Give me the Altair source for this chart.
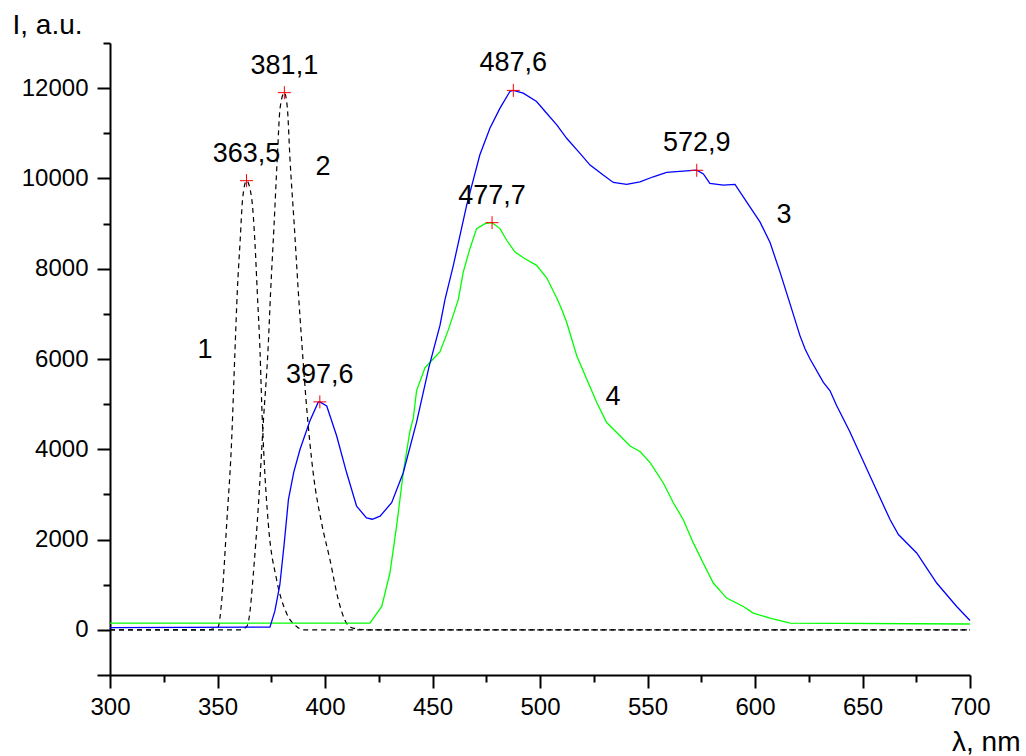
import altair as alt
import pandas as pd

# ---- data ----
c1_x = [300, 345, 350.2, 352, 354.3, 356.6, 358.1, 359.2, 360.5, 361.7, 363.5, 365.9, 367.4, 368.5, 369.8, 370.6, 371.6, 373.6, 377.5, 382.1, 386.8, 390, 700]
c1_y = [0, 0, 60, 667, 2370, 4222, 6148, 7481, 8593, 9555, 9950, 9555, 8593, 7481, 6148, 4963, 3852, 2370, 1111, 370, 74, 0, 0]

c2_x = [300, 360, 363.6, 364.8, 366.7, 369, 371.3, 373.6, 374.7, 376.3, 377.8, 379.1, 381.1, 382.5, 383.7, 385.7, 387.6, 389.3, 391.4, 394.5, 398.4, 402.3, 406.2, 410, 413.1, 420, 700]
c2_y = [0, 0, 74, 296, 1259, 2741, 4593, 6300, 7481, 8963, 10444, 11556, 11900, 11556, 10444, 8963, 7481, 6300, 4963, 3481, 2370, 1556, 667, 148, 37, 0, 0]

c3_x = [300, 374.4, 376.7, 379, 381, 383, 385.5, 388.4, 393, 396.9, 397.6, 400.8, 405.4, 410, 414.7, 419.3, 422, 425.6, 431, 436.4, 442.6, 448.4, 453.5, 455.8, 459.7, 465.9, 472, 476.7, 481.4, 486, 487.6, 492.2, 498.4, 503.1, 507.8, 512.4, 518.6, 523.3, 529.4, 534.1, 540.3, 546.5, 552.7, 558.9, 566.6, 572.9, 576, 579, 585.3, 590.7, 596.1, 602.3, 607, 611.6, 616.3, 620.9, 623.3, 625.6, 631.8, 634.9, 638, 644, 653.5, 662.8, 666.7, 675.2, 684.5, 693.8, 700]
c3_y = [50, 60, 420, 1000, 1900, 2890, 3500, 4000, 4630, 5050, 5050, 4960, 4300, 3490, 2740, 2480, 2450, 2520, 2815, 3480, 4600, 5830, 6750, 7314, 8074, 9407, 10518, 11111, 11556, 11926, 11950, 11889, 11704, 11444, 11185, 10889, 10556, 10296, 10074, 9911, 9867, 9926, 10037, 10133, 10163, 10185, 10100, 9889, 9852, 9867, 9481, 9037, 8580, 7930, 7220, 6518, 6222, 6000, 5481, 5296, 4963, 4400, 3407, 2444, 2111, 1704, 1037, 518, 207]

c4_x = [300, 420.9, 426.4, 430.2, 433.3, 436.4, 439.5, 441.1, 442.6, 445.7, 446.5, 450.3, 453.5, 457.4, 462, 464.3, 467.4, 470.5, 474.4, 477.7, 481.4, 484.5, 488.4, 493, 498.4, 503.1, 507.8, 510, 512.4, 517.1, 521.7, 526.4, 531, 535.7, 541.9, 546.5, 551.2, 557.3, 562, 566.6, 571.3, 575.9, 580.6, 586.8, 594.6, 599.2, 607, 616.3, 700]
c4_y = [150, 150, 518, 1259, 2296, 3481, 4400, 4700, 5300, 5700, 5807, 6000, 6162, 6650, 7314, 7926, 8444, 8889, 9000, 9020, 8889, 8630, 8370, 8222, 8074, 7800, 7350, 7111, 6815, 6074, 5556, 5037, 4593, 4370, 4074, 3950, 3704, 3259, 2815, 2444, 1926, 1481, 1037, 704, 518, 370, 259, 150, 130]

peak_x = [363.5, 381.1, 397.6, 477.7, 487.6, 572.9]
peak_y = [9950, 11900, 5050, 9020, 11950, 10180]
peak_text = ["363,5", "381,1", "397,6", "477,7", "487,6", "572,9"]

lab_x = [344.2, 399.1, 613.5, 534.0]
lab_y = [6029, 10083, 9019, 4987]
lab_text = ["1", "2", "3", "4"]

x_ticks = list(range(300, 701, 25))
y_ticks = list(range(-1000, 13001, 1000))

FONT = "Liberation Sans"

xaxis = alt.Axis(
    values=x_ticks,
    labelExpr="datum.value % 50 === 0 ? datum.label : ''",
    tickSize={"condition": {"test": "datum.value % 50 === 0", "value": 13}, "value": 7},
    grid=False, domainColor="black", domainWidth=2, tickColor="black", tickWidth=2,
    labelFont=FONT, labelFontSize=24, labelColor="black", labelPadding=7,
    labelFlush=False, labelOverlap=False,
    titleFont=FONT, titleFontSize=28, titleFontWeight="normal", titleColor="black",
    titleAlign="right", titleX=910, titleY=75, titleBaseline="alphabetic",
)
yaxis = alt.Axis(
    values=y_ticks, format="d",
    labelExpr="(datum.value % 2000 === 0) ? datum.label : ''",
    tickSize={"condition": {"test": "datum.value % 2000 === 0 || datum.value === -1000", "value": 13}, "value": 7},
    grid=False, domainColor="black", domainWidth=2, tickColor="black", tickWidth=2,
    labelFont=FONT, labelFontSize=24, labelColor="black", labelPadding=9,
    labelFlush=False, labelOverlap=False,
    titleFont=FONT, titleFontSize=28, titleFontWeight="normal", titleColor="black",
    titleAngle=0, titleAlign="left", titleX=-98, titleY=-10, titleBaseline="alphabetic",
)

X = alt.X("x:Q", scale=alt.Scale(domain=[300, 700], nice=False, zero=False), axis=xaxis, title="λ, nm")
Y = alt.Y("y:Q", scale=alt.Scale(domain=[-1000, 13000], nice=False, zero=False), axis=yaxis, title="I, a.u.")


def df(xs, ys):
    return pd.DataFrame({"x": xs, "y": ys})


l1 = alt.Chart(df(c1_x, c1_y)).mark_line(color="black", strokeWidth=1.2, strokeDash=[5, 4], interpolate="monotone").encode(x=X, y=Y)
l2 = alt.Chart(df(c2_x, c2_y)).mark_line(color="black", strokeWidth=1.2, strokeDash=[5, 4], interpolate="monotone").encode(x=X, y=Y)
l4 = alt.Chart(df(c4_x, c4_y)).mark_line(color="#00ff00", strokeWidth=1.3).encode(x=X, y=Y)
l3 = alt.Chart(df(c3_x, c3_y)).mark_line(color="#0000ff", strokeWidth=1.3).encode(x=X, y=Y)

peaks = pd.DataFrame({"x": peak_x, "y": peak_y, "t": peak_text})
marks = alt.Chart(peaks).mark_point(shape="M-1,0L1,0M0,-1L0,1", size=169, color="red", filled=False, strokeWidth=1, opacity=1).encode(x=X, y=Y)
ptext = alt.Chart(peaks).mark_text(font=FONT, fontSize=27, color="black", align="center", baseline="alphabetic", dy=-19).encode(x=X, y=Y, text="t:N")

labs = pd.DataFrame({"x": lab_x, "y": lab_y, "t": lab_text})
ltext = alt.Chart(labs).mark_text(font=FONT, fontSize=27, color="black", align="center", baseline="alphabetic").encode(x=X, y=Y, text="t:N")

chart = alt.layer(l1, l2, l4, l3, marks, ptext, ltext).properties(
    width=860, height=632,
    padding={"left": 110, "top": 43, "right": 56, "bottom": 81},
    autosize=alt.AutoSizeParams(type="none"),
    background="white",
).configure_view(stroke=None)

chart.save("out.html", embed_options={"renderer": "svg", "actions": False})
